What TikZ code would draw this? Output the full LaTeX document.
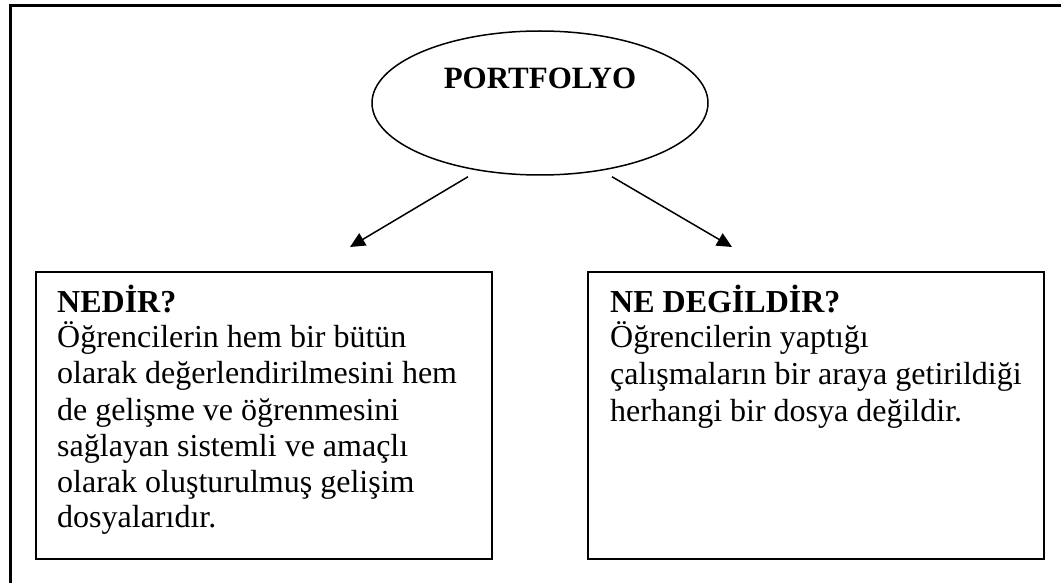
\documentclass[tikz,border=0pt]{standalone}
\usepackage{fontspec}
\setmainfont{Liberation Serif}
\usetikzlibrary{shapes.geometric,arrows.meta,calc}
\newcommand\bodysize{\fontsize{32pt}{36pt}\selectfont}
\newcommand\titlesize{\fontsize{31pt}{34pt}\selectfont}
\tikzset{
  frame/.style={line width=3pt},
  boxstyle/.style={draw,line width=1.5pt,rectangle,inner sep=0pt},
  txt/.style={anchor=base west,inner sep=0pt,font=\bodysize},
  head/.style={anchor=base west,inner sep=0pt,font=\bodysize\bfseries},
  arr/.style={line width=1.5pt,-{Triangle[length=15pt,width=14pt]}}}
\begin{document}
\begin{tikzpicture}[x=1pt,y=1pt]
\useasboundingbox (0,0) rectangle (1061,-583);
\draw[frame] (10.5,-583) -- (10.5,-5.7) -- (1061,-5.7);
% ellipse
\node[draw,ellipse,line width=1.5pt,minimum width=336pt,minimum height=144pt,inner sep=0pt] (ell) at (540,-103) {};
\node[anchor=base,inner sep=0pt,font=\titlesize\bfseries] (title) at (540,-89) {PORTFOLYO};
% boxes
\node[boxstyle,minimum width=456pt,minimum height=287pt] (boxL) at (264,-415.5) {};
\node[boxstyle,minimum width=456pt,minimum height=287pt] (boxR) at (816,-415.5) {};
% arrows
\coordinate (tipL) at (350,-247);
\coordinate (tipR) at (732,-247);
\draw[arr] ($(ell.south)+(-72,-1)$) -- (tipL);
\draw[arr] ($(ell.south)+(72,-1)$) -- (tipR);
% left text
\node[head] (l1) at (57,-312) {NEDİR?};
\node[txt] (l2) at (57,-347) {Öğrencilerin hem bir bütün};
\node[txt] (l3) at (57,-383) {olarak değerlendirilmesini hem};
\node[txt] (l4) at (57,-420) {de gelişme ve öğrenmesini};
\node[txt] (l5) at (57,-456) {sağlayan sistemli ve amaçlı};
\node[txt] (l6) at (57,-492) {olarak oluşturulmuş gelişim};
\node[txt] (l7) at (57,-527) {dosyalarıdır.};
% right text
\node[head] (r1) at (610,-312) {NE DEGİLDİR?};
\node[txt] (r2) at (610,-347) {Öğrencilerin yaptığı};
\node[txt] (r3) at (610,-384) {çalışmaların bir araya getirildiği};
\node[txt] (r4) at (610,-421) {herhangi bir dosya değildir.};
\end{tikzpicture}
\end{document}
